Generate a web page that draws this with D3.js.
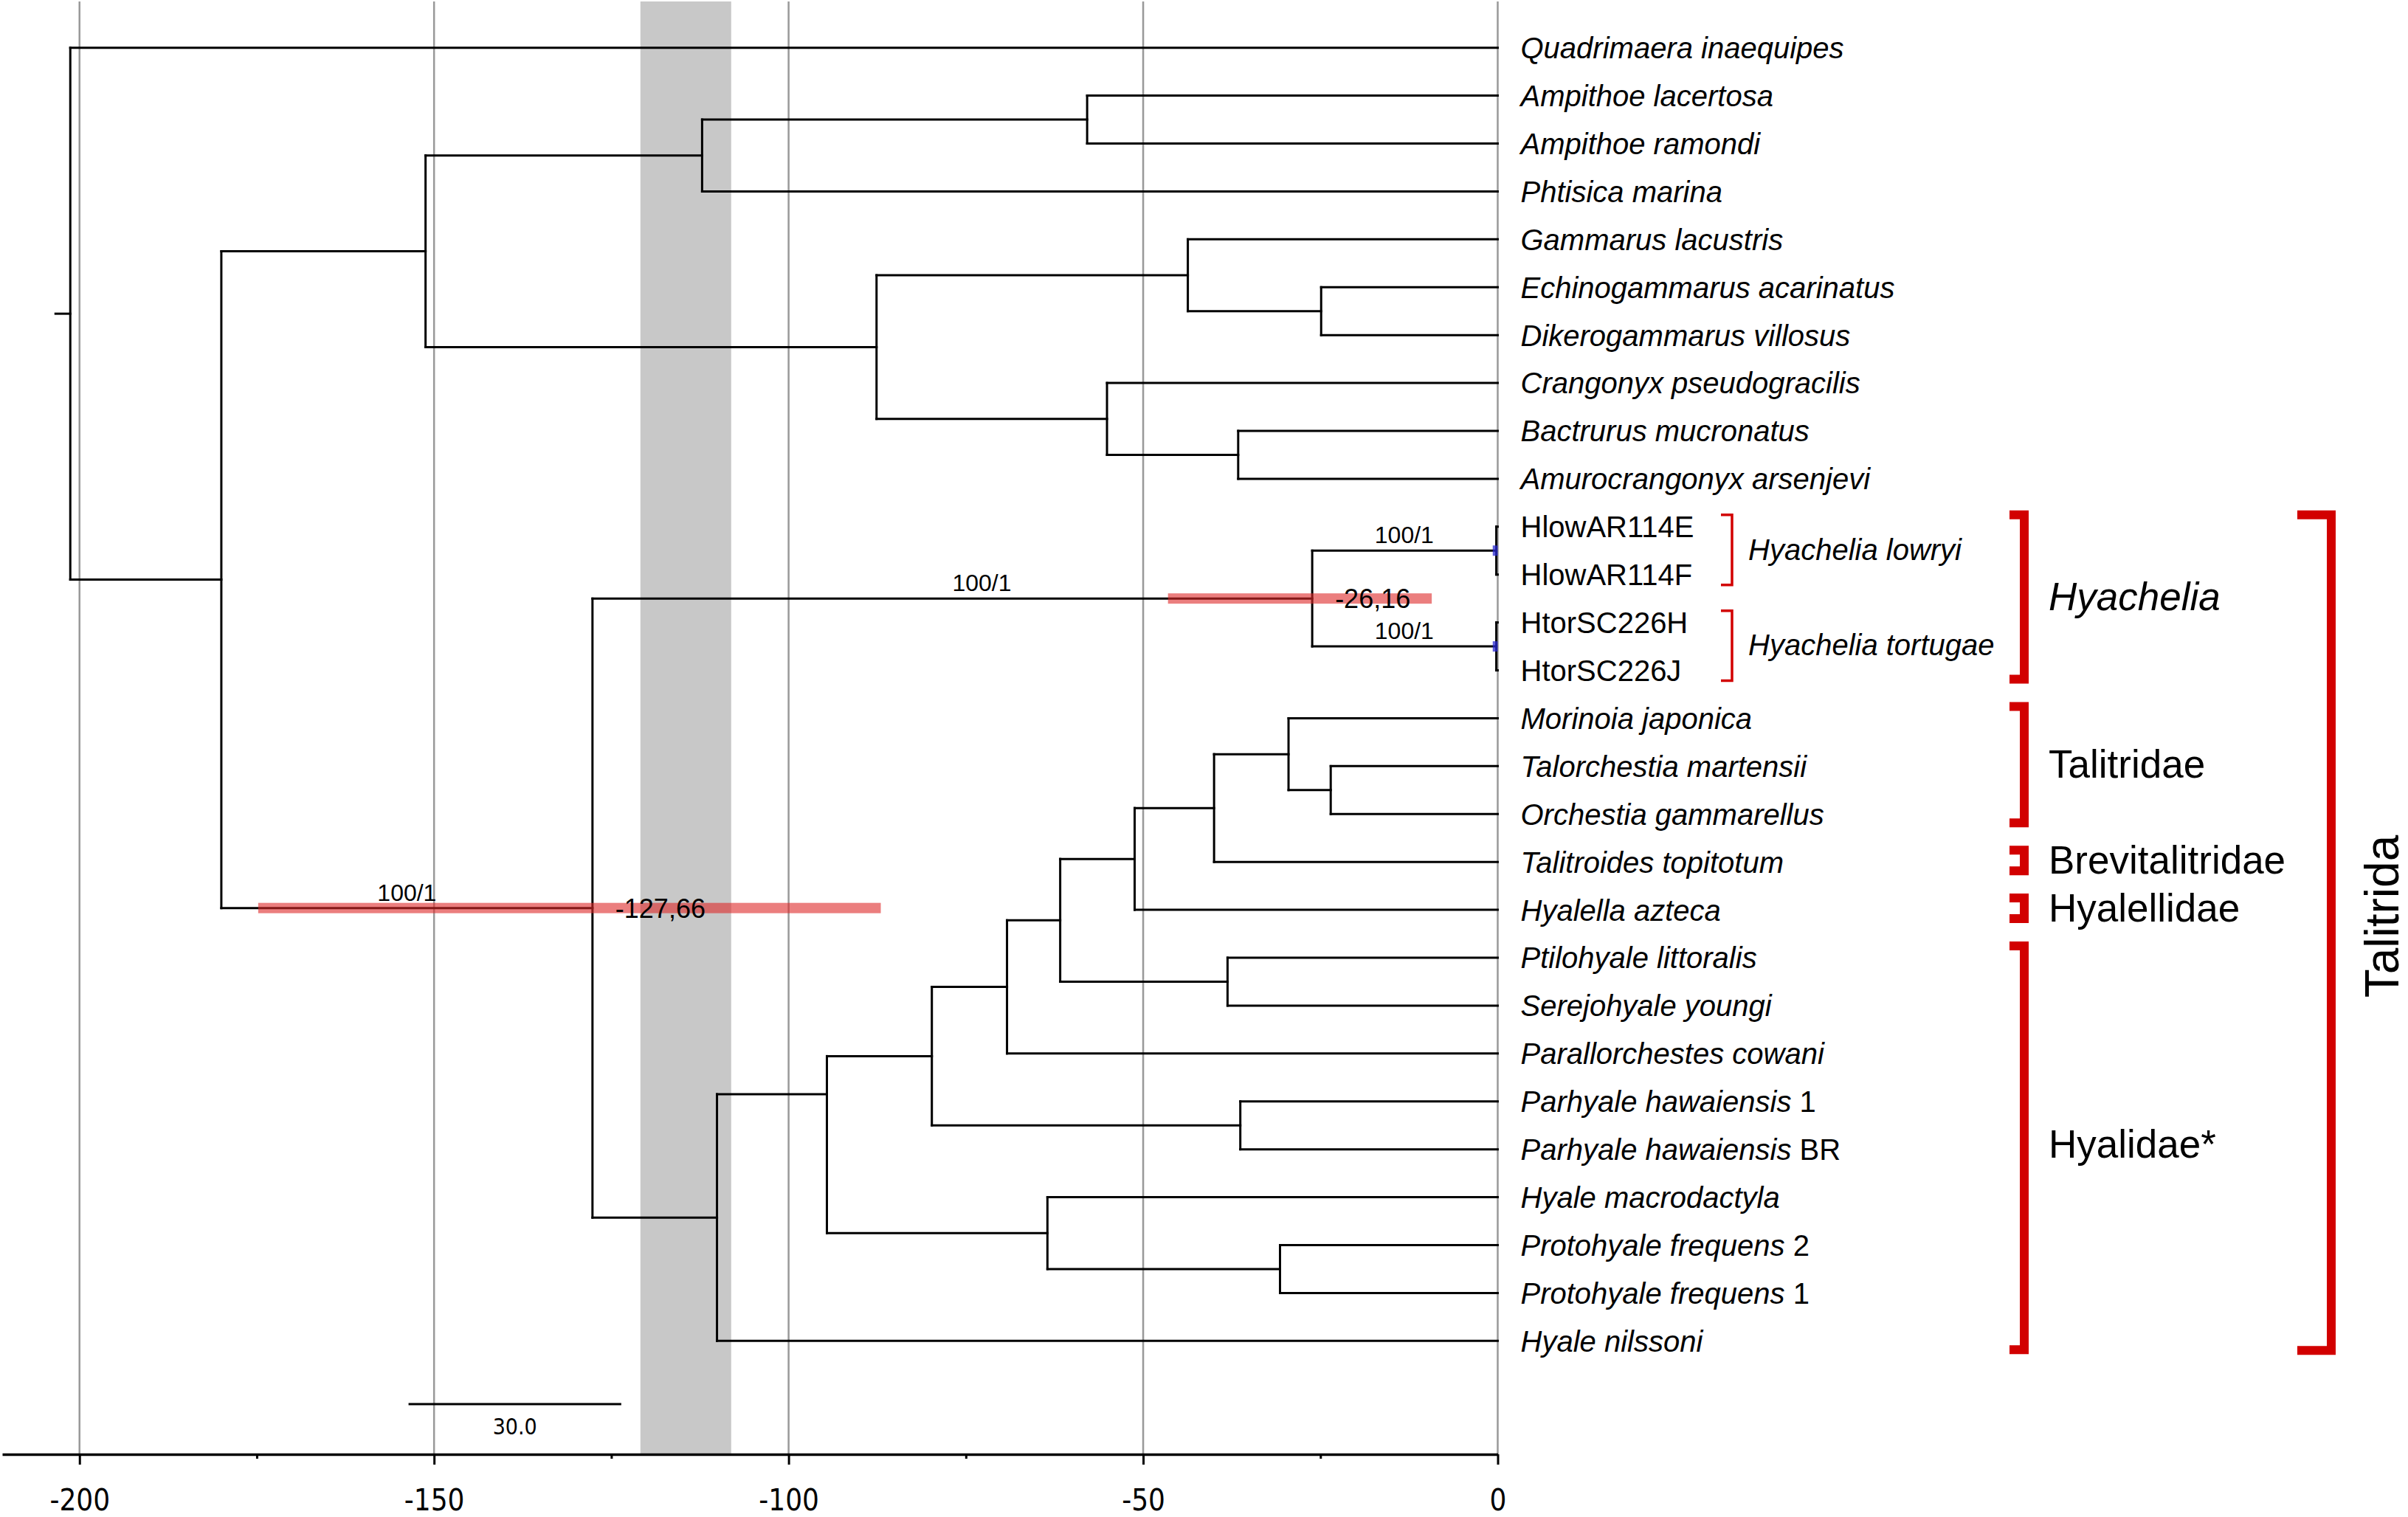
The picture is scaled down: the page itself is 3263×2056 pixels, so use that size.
<!DOCTYPE html>
<html><head><meta charset="utf-8">
<script src="https://cdn.jsdelivr.net/npm/d3@7"></script>
<style>html,body{margin:0;padding:0;background:#fff}</style>
</head><body><svg id="c" width="3263" height="2056" xmlns="http://www.w3.org/2000/svg"></svg>
<script>
// ---------- DATA ----------
const taxa = [
  "Quadrimaera inaequipes","Ampithoe lacertosa","Ampithoe ramondi","Phtisica marina",
  "Gammarus lacustris","Echinogammarus acarinatus","Dikerogammarus villosus",
  "Crangonyx pseudogracilis","Bactrurus mucronatus","Amurocrangonyx arsenjevi",
  "HlowAR114E","HlowAR114F","HtorSC226H","HtorSC226J",
  "Morinoia japonica","Talorchestia martensii","Orchestia gammarellus",
  "Talitroides topitotum","Hyalella azteca","Ptilohyale littoralis","Serejohyale youngi",
  "Parallorchestes cowani","Parhyale hawaiensis 1","Parhyale hawaiensis BR",
  "Hyale macrodactyla","Protohyale frequens 2","Protohyale frequens 1","Hyale nilssoni"
];
const plainTaxa = ["HlowAR114E","HlowAR114F","HtorSC226H","HtorSC226J"];
const plainSuffix = [["Parhyale hawaiensis 1","1"],["Parhyale hawaiensis BR","BR"],
  ["Protohyale frequens 2","2"],["Protohyale frequens 1","1"]];

// internal nodes: [id, age (Ma, negative), children]
const clades = [
  ["root",-201.3,["Quadrimaera inaequipes","n180"]],
  ["n180",-180.0,["n151","n128"]],
  ["n151",-151.2,["n112","n87"]],
  ["n112",-112.2,["n58","Phtisica marina"]],
  ["n58",-57.9,["Ampithoe lacertosa","Ampithoe ramondi"]],
  ["n87",-87.6,["n44","n55"]],
  ["n44",-43.7,["Gammarus lacustris","n25"]],
  ["n25",-24.9,["Echinogammarus acarinatus","Dikerogammarus villosus"]],
  ["n55",-55.1,["Crangonyx pseudogracilis","n37"]],
  ["n37",-36.6,["Bactrurus mucronatus","Amurocrangonyx arsenjevi"]],
  ["n128",-127.66,["n26","n110"]],
  ["n26",-26.16,["n0a","n0b"]],
  ["n0a",-0.2,["HlowAR114E","HlowAR114F"]],
  ["n0b",-0.2,["HtorSC226H","HtorSC226J"]],
  ["n110",-110.1,["n95","Hyale nilssoni"]],
  ["n95",-94.6,["n80","n63"]],
  ["n80",-79.8,["n69","n36"]],
  ["n69",-69.2,["n62","Parallorchestes cowani"]],
  ["n62",-61.7,["n51","n38"]],
  ["n51",-51.2,["n40","Hyalella azteca"]],
  ["n40",-40.0,["n29","Talitroides topitotum"]],
  ["n29",-29.5,["Morinoia japonica","n24"]],
  ["n24",-23.55,["Talorchestia martensii","Orchestia gammarellus"]],
  ["n38",-38.1,["Ptilohyale littoralis","Serejohyale youngi"]],
  ["n36",-36.3,["Parhyale hawaiensis 1","Parhyale hawaiensis BR"]],
  ["n63",-63.5,["Hyale macrodactyla","n31"]],
  ["n31",-30.7,["Protohyale frequens 2","Protohyale frequens 1"]]
];
// node drawn at a given row instead of the midpoint of its children (as in the figure)
const nodeRow = [["n95",21.85]];
const supportLabels = [["n128","100/1"],["n26","100/1"],["n0a","100/1"],["n0b","100/1"]];
const ageLabelNodes = ["n128","n26"];
const hpd = [["n128",-174.8,-87.0,"red"],["n26",-46.5,-9.3,"red"],["n0a",-0.7,0,"blue"],["n0b",-0.7,0,"blue"]];
const grayBand = [-120.9,-108.1];
const majorTicks = [-200,-150,-100,-50,0];
const minorTicks = [-175,-125,-75,-25];
const scaleBarLength = 30;
const scaleBarStart = -153.6;
const speciesGroups = [["Hyachelia lowryi","HlowAR114E","HlowAR114F"],["Hyachelia tortugae","HtorSC226H","HtorSC226J"]];
const familyGroups = [["Hyachelia","HlowAR114E","HtorSC226J",true],["Talitridae","Morinoia japonica","Orchestia gammarellus",false],
  ["Brevitalitridae","Talitroides topitotum","Talitroides topitotum",false],["Hyalellidae","Hyalella azteca","Hyalella azteca",false],
  ["Hyalidae*","Ptilohyale littoralis","Hyale nilssoni",false]];
const orderGroups = [["Talitrida","HlowAR114E","Hyale nilssoni"]];

// ---------- SCALES ----------
const svg = d3.select("#c");
const x = d3.scaleLinear().domain([-210.9,0]).range([3,2029.5]);
const rowY = d3.scaleLinear().domain([0,taxa.length-1]).range([64.7,1817.3]);
const axisY = 1971, topY = 2;
const RED = "#d20000";
const SANS = "'Liberation Sans', Arial, sans-serif";
const AXF = "'DejaVu Sans Condensed','DejaVu Sans',sans-serif";
const fmt = d3.formatLocale({decimal:",",thousands:".",grouping:[3],currency:["",""],minus:"-"}).format(".2f");

// ---------- TREE ----------
const cladeMap = new Map(clades.map(c=>[c[0],{age:c[1],children:c[2]}]));
const rowOverride = new Map(nodeRow);
function build(id){
  if(cladeMap.has(id)){
    const c = cladeMap.get(id);
    return {id, age:c.age, children:c.children.map(build)};
  }
  return {id, age:0};
}
const root = d3.hierarchy(build("root"));
root.eachAfter(n=>{
  if(!n.children) n.y = rowY(taxa.indexOf(n.data.id));
  else if(rowOverride.has(n.data.id)) n.y = rowY(rowOverride.get(n.data.id));
  else n.y = (n.children[0].y + n.children[n.children.length-1].y)/2;
  n.x = x(n.data.age);
});
const nodeById = new Map(root.descendants().map(n=>[n.data.id,n]));

// gray band
svg.append("rect").attr("x",x(grayBand[0])).attr("y",topY)
  .attr("width",x(grayBand[1])-x(grayBand[0])).attr("height",axisY-topY).attr("fill","#c8c8c8");
// grid
svg.append("g").selectAll("line").data(majorTicks).join("line")
  .attr("x1",d=>x(d)).attr("x2",d=>x(d)).attr("y1",topY).attr("y2",axisY)
  .attr("stroke","#999").attr("stroke-width",2.5);

// branches
const g = svg.append("g").attr("fill","none").attr("stroke","#000").attr("stroke-width",3).attr("stroke-linecap","square");
root.descendants().filter(n=>n.children).forEach(n=>{
  const f = n.children[0], l = n.children[n.children.length-1];
  g.append("path").attr("d",`M${n.x},${f.y}V${l.y}`);
  n.children.forEach(c=>g.append("path").attr("d",`M${n.x},${c.y}H${c.x}`));
});
g.append("path").attr("d",`M${root.x-20},${root.y}H${root.x}`);

// HPD bars
svg.append("g").selectAll("rect").data(hpd).join("rect")
  .attr("x",d=>x(d[1])).attr("width",d=>Math.max(3,x(d[2])-x(d[1])))
  .attr("y",d=>nodeById.get(d[0]).y-7).attr("height",14)
  .attr("fill",d=>d[3]==="red"?"rgba(222,40,40,0.6)":"rgba(40,40,210,0.75)");

// support labels (centred on the branch; the stem label sits a little right of centre in the figure)
svg.append("g").selectAll("text").data(supportLabels).join("text")
  .attr("x",d=>{const n=nodeById.get(d[0]);const m=(n.parent.x+n.x)/2;return d[0]==="n26"?m+40:m;})
  .attr("y",d=>nodeById.get(d[0]).y-10)
  .attr("text-anchor","middle").attr("font-family",SANS).attr("font-size",32).text(d=>d[1]);
// age labels
svg.append("g").selectAll("text").data(ageLabelNodes).join("text")
  .attr("x",d=>nodeById.get(d).x+31).attr("y",d=>nodeById.get(d).y)
  .attr("dy","0.36em").attr("font-family",SANS).attr("font-size",36).text(d=>fmt(nodeById.get(d).data.age));

// tip labels
const suf = new Map(plainSuffix);
const tl = svg.append("g").attr("font-family",SANS).attr("font-size",40);
taxa.forEach((t,i)=>{
  const tx = tl.append("text").attr("x",x(0)+31).attr("y",rowY(i)).attr("dy","0.36em");
  if(plainTaxa.includes(t)) tx.text(t);
  else if(suf.has(t)){
    const s = suf.get(t);
    tx.append("tspan").attr("font-style","italic").text(t.slice(0,t.length-s.length));
    tx.append("tspan").text(s);
  } else tx.attr("font-style","italic").text(t);
});

// ---------- BRACKETS ----------
const yOf = name => rowY(taxa.indexOf(name));
// thin species brackets
speciesGroups.forEach(([lab,a,b])=>{
  const y0=yOf(a)-16, y1=yOf(b)+14, xr=2347;
  svg.append("path").attr("d",`M${xr-15},${y0}H${xr}V${y1}H${xr-15}`)
    .attr("fill","none").attr("stroke",RED).attr("stroke-width",3.5);
  svg.append("text").attr("x",2369).attr("y",(yOf(a)+yOf(b))/2-2).attr("dy","0.36em")
    .attr("font-family",SANS).attr("font-size",40).attr("font-style","italic").text(lab);
});
function thick(xr,len,y0,y1){
  svg.append("path").attr("d",`M${xr-len},${y0+6}H${xr-6}V${y1-6}H${xr-len}`)
    .attr("fill","none").attr("stroke",RED).attr("stroke-width",12).attr("stroke-linejoin","miter");
}
familyGroups.forEach(([lab,a,b,it])=>{
  const y0=yOf(a)-22, y1=yOf(b)+18;
  thick(2749,26,y0,y1);
  const span = yOf(b)-yOf(a);
  svg.append("text").attr("x",2776).attr("y",(yOf(a)+yOf(b))/2 - (span>300?8:3)).attr("dy","0.36em")
    .attr("font-family",SANS).attr("font-size",53).attr("font-style",it?"italic":"normal").text(lab);
});
orderGroups.forEach(([lab,a,b])=>{
  const y0=yOf(a)-22, y1=yOf(b)+19;
  thick(3165,52,y0,y1);
  svg.append("text").attr("transform",`translate(3250,1242) rotate(-90)`)
    .attr("text-anchor","middle").attr("font-family",SANS).attr("font-size",64).text(lab);
});

// ---------- AXIS ----------
const ax = svg.append("g").attr("transform",`translate(0,${axisY})`)
  .call(d3.axisBottom(x).tickValues(majorTicks).tickSize(14).tickSizeOuter(0).tickPadding(34).tickFormat(d3.format("d")));
ax.select(".domain").attr("stroke","#000").attr("stroke-width",3.5);
ax.selectAll(".tick line").attr("stroke","#000").attr("stroke-width",3);
ax.selectAll(".tick text").attr("font-family",AXF).attr("font-stretch","condensed").attr("font-size",40).attr("fill","#000")
  .text(d=>String(d).replace("\u2212","-"));
const mx = svg.append("g").attr("transform",`translate(0,${axisY})`)
  .call(d3.axisBottom(x).tickValues(minorTicks).tickSize(6).tickSizeOuter(0).tickFormat(""));
mx.select(".domain").remove();
mx.selectAll(".tick line").attr("stroke","#000").attr("stroke-width",3);

// scale bar
const sbY = 1903;
svg.append("line").attr("x1",x(scaleBarStart)).attr("x2",x(scaleBarStart+scaleBarLength))
  .attr("y1",sbY).attr("y2",sbY).attr("stroke","#000").attr("stroke-width",3);
svg.append("text").attr("x",x(scaleBarStart+scaleBarLength/2)).attr("y",sbY+41)
  .attr("text-anchor","middle").attr("font-family",AXF).attr("font-stretch","condensed").attr("font-size",30)
  .text(scaleBarLength.toFixed(1));
</script></body></html>
